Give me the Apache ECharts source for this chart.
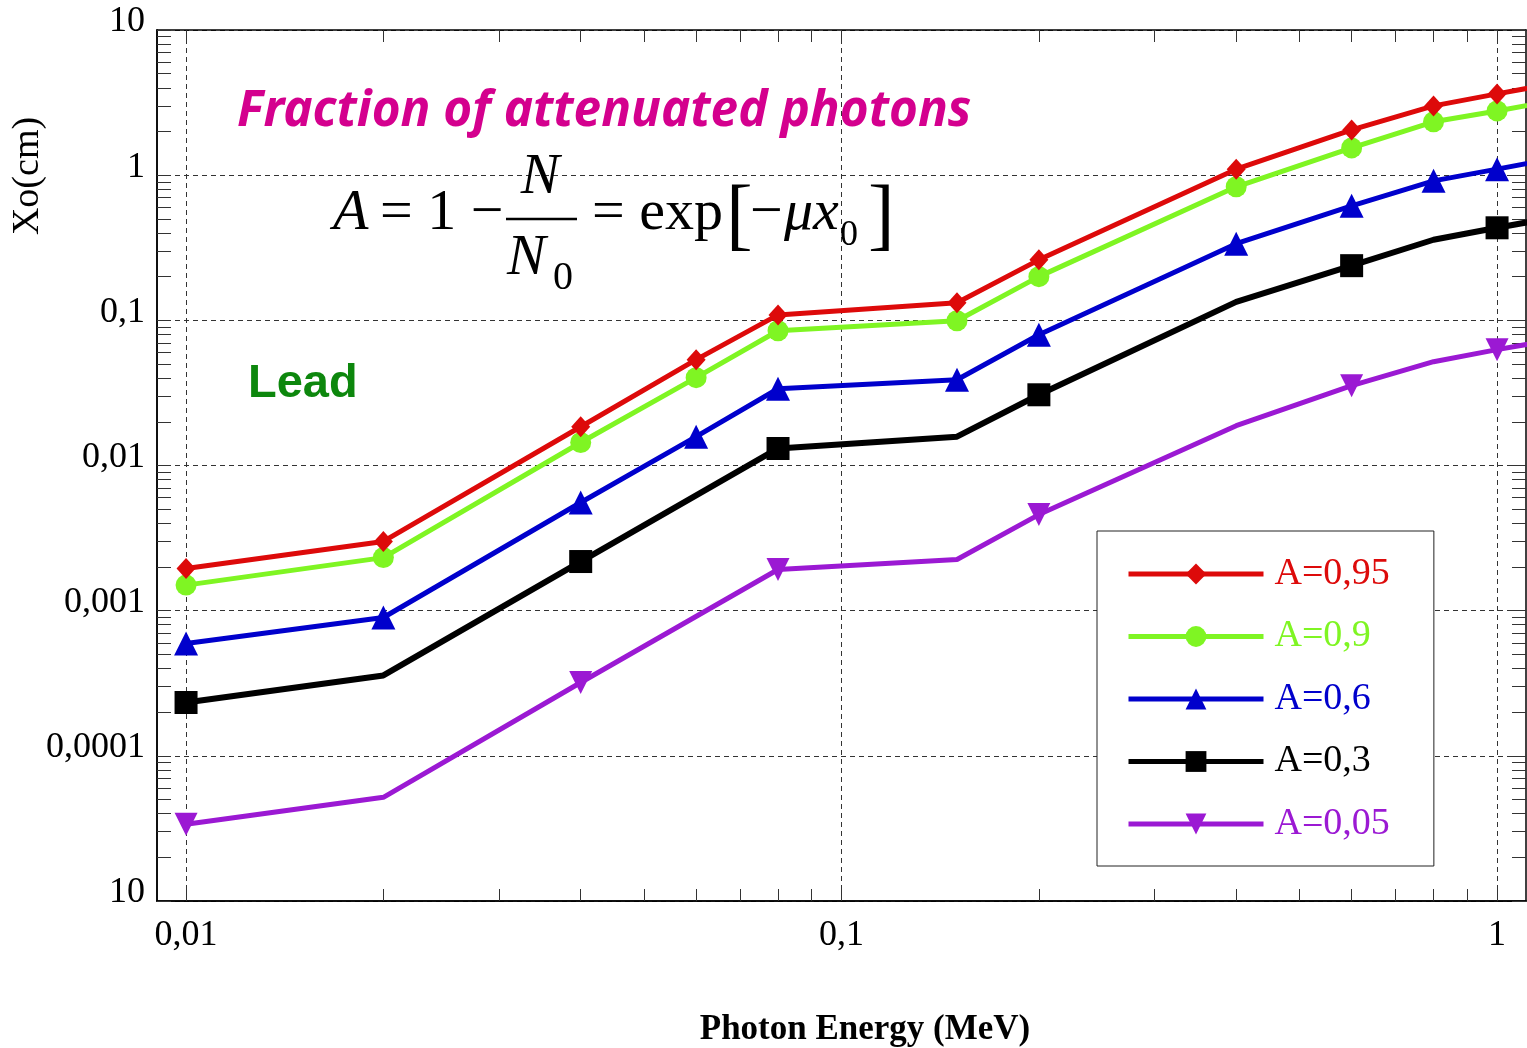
<!DOCTYPE html>
<html>
<head>
<meta charset="utf-8">
<script src="https://cdn.jsdelivr.net/npm/echarts@6/dist/echarts.min.js"></script>
<style>
html,body{margin:0;padding:0;background:#fff;overflow:hidden;}
#chart{width:1527px;height:1048px;}
</style>
</head>
<body>
<div id="chart"></div>
<script>
// ---- data ----
const energy = [0.01, 0.02, 0.04, 0.06, 0.08, 0.15, 0.2, 0.4, 0.6, 0.8, 1.0, 1.25];
const a095 = [0.00195, 0.0030, 0.0185, 0.0536, 0.109, 0.132, 0.261, 1.10, 2.05, 3.00, 3.63, 4.37];
const a09  = [0.0015, 0.00232, 0.0144, 0.0403, 0.0848, 0.0993, 0.200, 0.832, 1.54, 2.33, 2.77, 3.33];
const a06  = [0.000594, 0.000897, 0.00556, 0.0158, 0.0338, 0.039, 0.0796, 0.337, 0.615, 0.914, 1.10, 1.33];
const a03  = [0.000233, 0.000358, 0.00218, null, 0.0131, 0.0158, 0.0307, 0.134, 0.238, 0.359, 0.434, 0.52];
const a005 = [3.38e-5, 5.18e-5, 0.00032, null, 0.00192, 0.00225, 0.00459, 0.0188, 0.0355, 0.0519, 0.0628, 0.075];
const seriesNames = ['A=0,95', 'A=0,9', 'A=0,6', 'A=0,3', 'A=0,05'];
const sparseMarkerEnergies = [0.01, 0.04, 0.08, 0.2, 0.6, 1.0];

const xTickValues = [0.01, 0.1, 1];
const xTickLabels = ['0,01', '0,1', '1'];
const yTickValues = [1e-5, 1e-4, 1e-3, 1e-2, 1e-1, 1, 10];
const yTickLabels = ['10', '0,0001', '0,001', '0,01', '0,1', '1', '10'];
const xAxisName = 'Photon Energy (MeV)';
const yAxisName = 'Xo(cm)';

// ---- helpers ----
const xMin = 0.00903, xMax = 1.107, yMin = 1e-5, yMax = 10;
function minorTicks(lo, hi) {
  const out = [];
  for (let d = lo; d <= hi; d++) for (let k = 2; k <= 9; k++) out.push(+(k * Math.pow(10, d)).toPrecision(6));
  return out;
}
const xMinor = minorTicks(-3, 0).filter(v => v >= xMin && v <= xMax);
const yMinor = minorTicks(-5, 0).filter(v => v >= yMin && v <= yMax);
function lookup(vals, labels) {
  return function (v) {
    const lv = Math.log10(v);
    for (let i = 0; i < vals.length; i++) if (Math.abs(Math.log10(vals[i]) - lv) < 1e-6) return labels[i];
    return '';
  };
}
function pairs(vals, sparse) {
  const out = [];
  energy.forEach((e, i) => {
    if (vals[i] == null) return;
    const item = { value: [e, vals[i]] };
    if (sparse && sparseMarkerEnergies.indexOf(e) < 0) item.symbol = 'none';
    out.push(item);
  });
  return out;
}

const serif = 'Liberation Serif';
const gridDash = { type: [5, 4], color: '#333', width: 1 };
const frameLine = { show: true, onZero: false, lineStyle: { color: '#000', width: 1.5 } };
const tickStyle = { color: '#333', width: 1 };

function xAxisBase(extra) {
  return Object.assign({ type: 'log', logBase: 10, min: xMin, max: xMax, gridIndex: 0,
    axisLine: frameLine, splitLine: { show: false }, minorTick: { show: false },
    axisLabel: { show: false }, axisTick: { show: false } }, extra);
}
function yAxisBase(extra) {
  return Object.assign({ type: 'log', logBase: 10, min: yMin, max: yMax, gridIndex: 0,
    axisLine: frameLine, splitLine: { show: false }, minorTick: { show: false },
    axisLabel: { show: false }, axisTick: { show: false } }, extra);
}

const colors = ['#dd0a0a', '#7ff523', '#0000cc', '#000000', '#9b19d3'];
const symbols = ['diamond', 'circle', 'triangle', 'rect', 'triangle'];
const symbolSizes = [[19, 21], 21, 24, 23, 23];
const rotates = [0, 0, 0, 0, 180];
const values = [a095, a09, a06, a03, a005];
const sparse = [false, false, false, true, true];

const series = values.map((v, i) => ({
  name: seriesNames[i],
  type: 'line',
  xAxisIndex: 0, yAxisIndex: 0,
  data: pairs(v, sparse[i]),
  symbol: symbols[i],
  symbolSize: symbolSizes[i],
  symbolRotate: rotates[i],
  showAllSymbol: true,
  clip: true,
  connectNulls: true,
  lineStyle: { color: colors[i], width: i === 3 ? 6 : 5 },
  itemStyle: { color: colors[i] },
  emphasis: { disabled: true },
  animation: false,
  z: 10 - i
}));

const chart = echarts.init(document.getElementById('chart'), null, { renderer: 'canvas', width: 1527, height: 1048 });
chart.setOption({
  animation: false,
  backgroundColor: '#fff',
  grid: { left: 157, top: 30, right: 1, bottom: 147, containLabel: false, outerBoundsMode: 'none' },
  xAxis: [
    xAxisBase({ position: 'bottom',
      name: xAxisName, nameLocation: 'middle', nameGap: 111,
      nameTextStyle: { fontFamily: serif, fontWeight: 'bold', fontSize: 35, color: '#000', padding: [0, 0, 0, 47] },
      axisTick: { show: true, inside: true, length: 13, lineStyle: tickStyle, customValues: xTickValues },
      axisLabel: { show: true, customValues: xTickValues, formatter: lookup(xTickValues, xTickLabels),
        fontFamily: serif, fontSize: 36, color: '#000', margin: 17 },
      splitLine: { show: true, lineStyle: gridDash } }),
    xAxisBase({ position: 'bottom',
      axisTick: { show: true, inside: true, length: 12, lineStyle: tickStyle, customValues: xMinor } }),
    xAxisBase({ position: 'top',
      axisTick: { show: true, inside: true, length: 12, lineStyle: tickStyle, customValues: xTickValues.concat(xMinor) } })
  ],
  yAxis: [
    yAxisBase({ position: 'left',
      axisTick: { show: true, inside: true, length: 14, lineStyle: tickStyle, customValues: yTickValues },
      axisLabel: { show: true, customValues: yTickValues, formatter: lookup(yTickValues, yTickLabels),
        fontFamily: serif, fontSize: 36, color: '#000', margin: 12, verticalAlign: 'bottom', lineHeight: 16 },
      splitLine: { show: true, lineStyle: gridDash } }),
    yAxisBase({ position: 'left',
      axisTick: { show: true, inside: true, length: 14, lineStyle: tickStyle, customValues: yMinor } }),
    yAxisBase({ position: 'right',
      axisTick: { show: true, inside: true, length: 14, lineStyle: tickStyle, customValues: yTickValues.concat(yMinor) } })
  ],
  legend: {
    orient: 'vertical',
    left: 1097, top: 531,
    padding: [24, 44, 23, 29],
    itemWidth: 135, itemHeight: 26, itemGap: 24.5,
    borderColor: '#222', borderWidth: 1, backgroundColor: '#fff',
    lineStyle: { width: 5 },
    textStyle: { fontFamily: serif, fontSize: 38, padding: [8, 0, 0, 6] },
    selectedMode: false,
    data: seriesNames.map((n, i) => ({ name: n, textStyle: { color: colors[i] } }))
  },
  graphic: [
    { type: 'text', x: 28, y: 176, rotation: Math.PI / 2, z: 100,
      style: { text: yAxisName, font: '38px "Liberation Serif"', fill: '#000', align: 'center', verticalAlign: 'middle', textAlign: 'center', textVerticalAlign: 'middle' } },
    { type: 'text', x: 237, y: 112, z: 100,
      style: { text: 'Fraction of attenuated photons', font: 'italic bold 49.5px "Noto Sans"', fill: '#d4008e', align: 'left', verticalAlign: 'middle', textAlign: 'left', textVerticalAlign: 'middle' } },
    { type: 'text', x: 248, y: 384, z: 100,
      style: { text: 'Lead', font: 'bold 47px "Liberation Sans"', fill: '#0d870d', align: 'left', verticalAlign: 'middle', textAlign: 'left', textVerticalAlign: 'middle' } },
    // formula  A = 1 - N/N0 = exp[-mu x0]
    { type: 'text', x: 333, y: 214, z: 100,
      style: { text: 'A', font: 'italic 58px "Liberation Serif"', fill: '#000', align: 'left', verticalAlign: 'middle', textAlign: 'left', textVerticalAlign: 'middle' } },
    { type: 'text', x: 380, y: 214, z: 100,
      style: { text: '= 1 −', font: '58px "Liberation Serif"', fill: '#000', align: 'left', verticalAlign: 'middle', textAlign: 'left', textVerticalAlign: 'middle' } },
    { type: 'text', x: 540, y: 178, z: 100,
      style: { text: 'N', font: 'italic 58px "Liberation Serif"', fill: '#000', align: 'center', verticalAlign: 'middle', textAlign: 'center', textVerticalAlign: 'middle' } },
    { type: 'line', z: 100, shape: { x1: 506, y1: 219, x2: 577, y2: 219 }, style: { stroke: '#000', lineWidth: 2.5 } },
    { type: 'text', x: 507, y: 259, z: 100,
      style: { text: 'N', font: 'italic 58px "Liberation Serif"', fill: '#000', align: 'left', verticalAlign: 'middle', textAlign: 'left', textVerticalAlign: 'middle' } },
    { type: 'text', x: 553, y: 278, z: 100,
      style: { text: '0', font: '40px "Liberation Serif"', fill: '#000', align: 'left', verticalAlign: 'middle', textAlign: 'left', textVerticalAlign: 'middle' } },
    { type: 'text', x: 592, y: 214, z: 100,
      style: { text: '= exp', font: '58px "Liberation Serif"', fill: '#000', align: 'left', verticalAlign: 'middle', textAlign: 'left', textVerticalAlign: 'middle' } },
    { type: 'text', x: 726, y: 219, z: 100,
      style: { text: '[', font: '80px "Liberation Serif"', fill: '#000', align: 'left', verticalAlign: 'middle', textAlign: 'left', textVerticalAlign: 'middle' } },
    { type: 'text', x: 750, y: 214, z: 100,
      style: { text: '−', font: '58px "Liberation Serif"', fill: '#000', align: 'left', verticalAlign: 'middle', textAlign: 'left', textVerticalAlign: 'middle' } },
    { type: 'text', x: 784, y: 214, z: 100,
      style: { text: 'μx', font: 'italic 58px "Liberation Serif"', fill: '#000', align: 'left', verticalAlign: 'middle', textAlign: 'left', textVerticalAlign: 'middle' } },
    { type: 'text', x: 840, y: 236, z: 100,
      style: { text: '0', font: '36px "Liberation Serif"', fill: '#000', align: 'left', verticalAlign: 'middle', textAlign: 'left', textVerticalAlign: 'middle' } },
    { type: 'text', x: 868, y: 219, z: 100,
      style: { text: ']', font: '80px "Liberation Serif"', fill: '#000', align: 'left', verticalAlign: 'middle', textAlign: 'left', textVerticalAlign: 'middle' } }
  ],
  series: series
});
</script>
</body>
</html>
